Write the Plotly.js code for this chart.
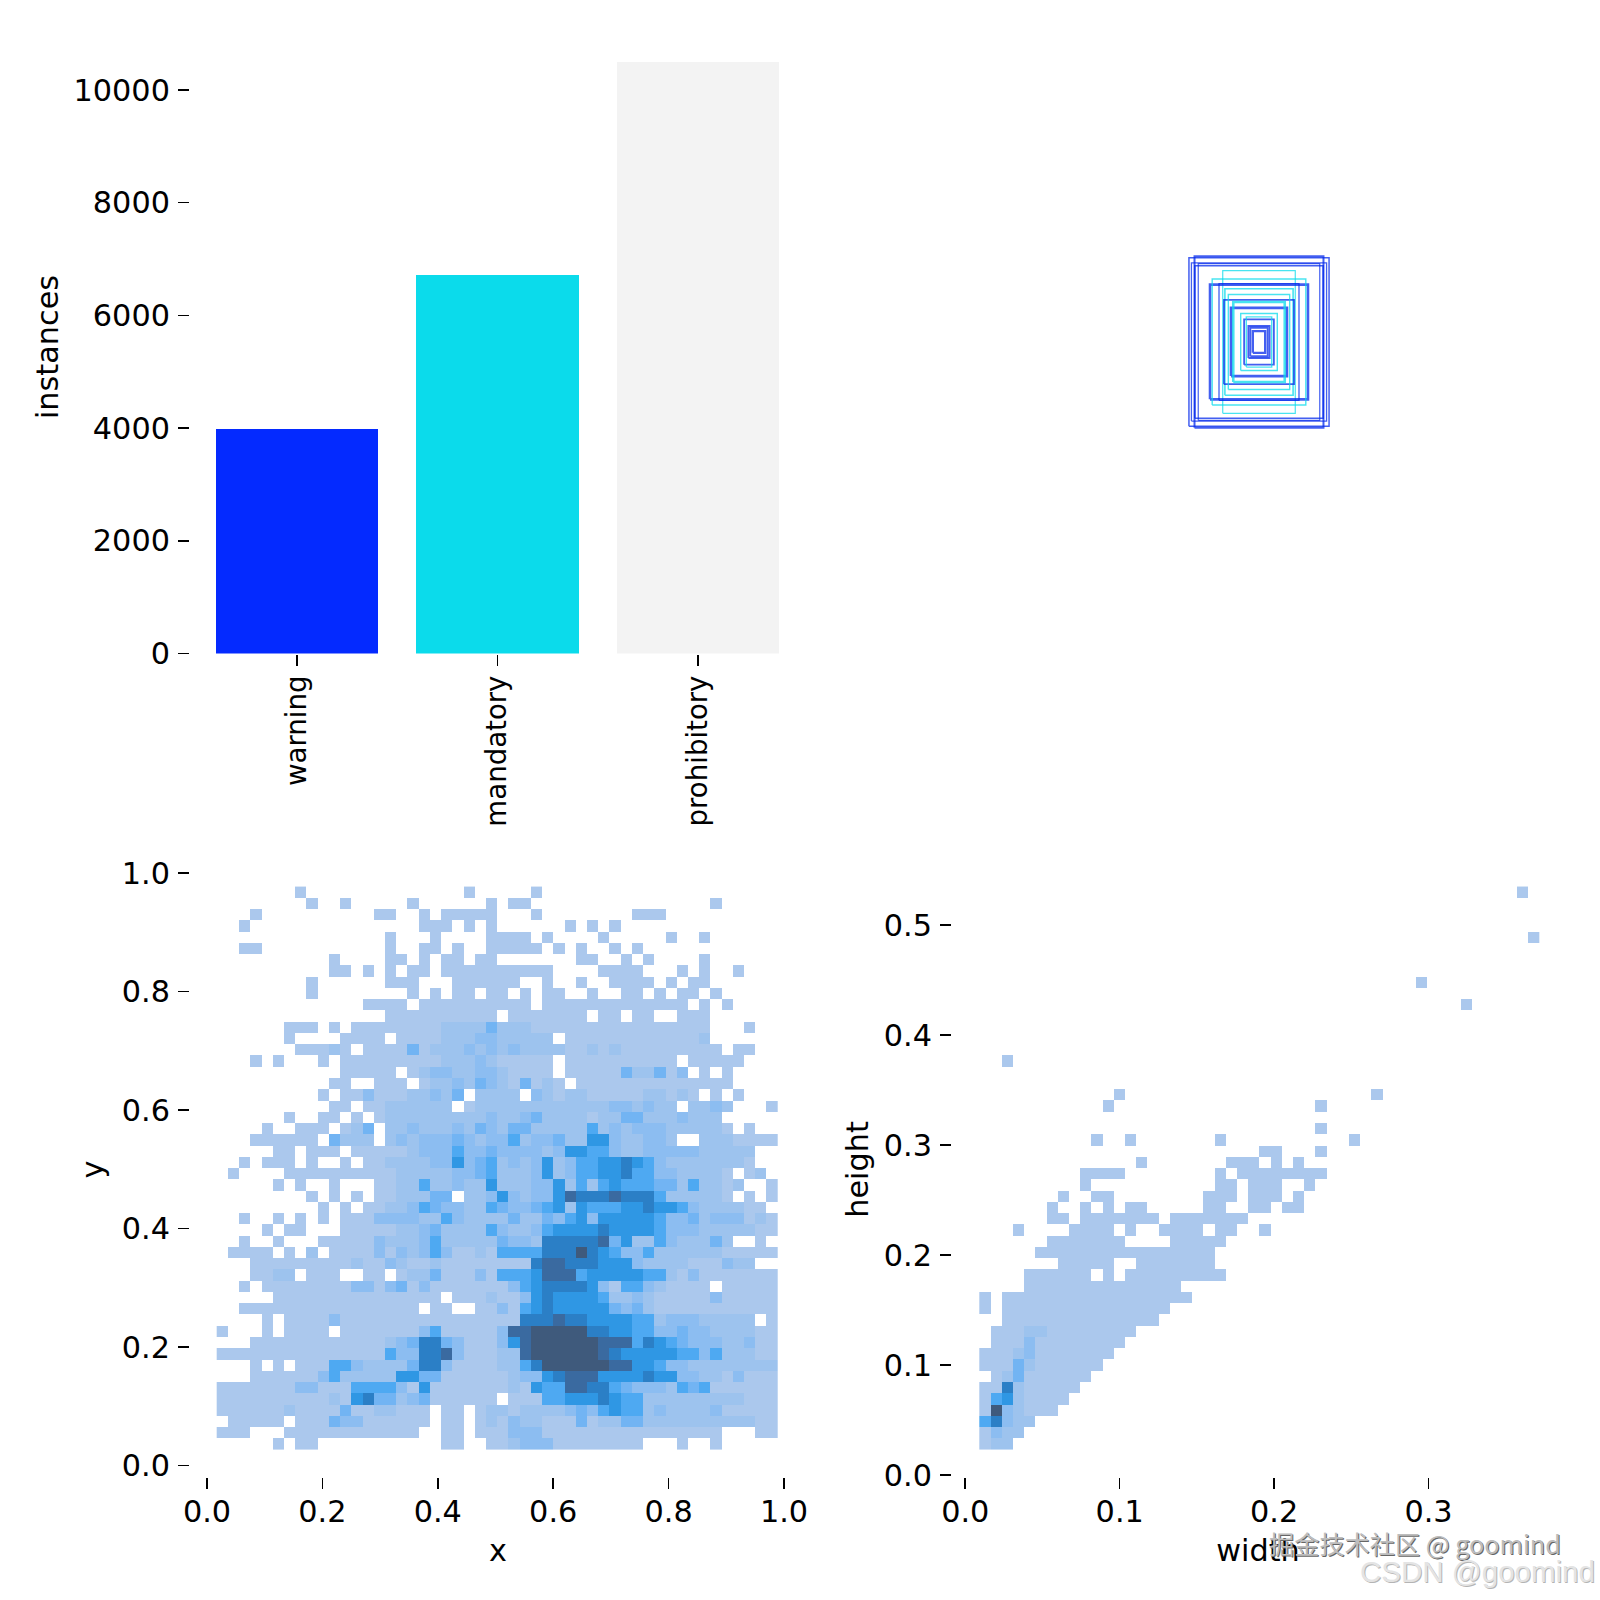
<!DOCTYPE html>
<html><head><meta charset="utf-8"><script src="https://cdn.plot.ly/plotly-3.0.1.min.js"></script>
<style>html,body{margin:0;padding:0;background:#fff}</style></head><body><div id="chart" style="width:1600px;height:1600px"></div>
<script>
const classNames = ["warning", "mandatory", "prohibitory"];
const classCounts = [3985, 6717, 10500];
const classColors = ["#042AFF", "#0BDBEB", "#F3F3F3"];

// x / y 2D histogram, counts on a 0-9 shade scale, top row first
const xyRows = [
"0000000100 0000000000 0010000010 0000000000 0000000000",
"0000000010 0100000100 0000101100 0000000000 0000100000",
"0001000000 0000110010 1111100010 0000000111 0000000000",
"0010000000 0000000011 1010100000 0101010000 0000000000",
"0000000000 0000010001 0000111101 0000100000 1001000000",
"0011000000 0000010011 0100111110 1010010100 0000000000",
"0000000000 1000011010 1101100000 0011001010 0001000000",
"0000000000 1101010110 1111111111 0000111100 0101001000",
"0000000010 0000011100 0111111001 0010011110 1011000000",
"0000000010 0000000101 0110110101 1001001101 0110100000",
"0000000000 0001111011 1111111101 1111111111 1101010000",
"0000000000 0000011111 1111101111 1110110110 0111000000",
"0000001110 1011111111 2222422211 1111111111 1111000100",
"0000001000 0111101111 2223322222 0111111111 1112000000",
"0000000111 2101111412 2232323222 2112121111 1111101100",
"0001010001 0111111111 2223211111 0111111111 1011111000",
"0000000000 0111110123 3223321111 0111114224 1301010000",
"0000000000 1100111012 2324321412 1011111111 1111110000",
"0000000001 0113111223 2402222032 1221111122 1210101000",
"0000000000 1101122222 2012222222 2222233232 2022320001",
"0000001001 1010122222 2222322342 2221224422 2322200000",
"0000100111 0124022322 2324324422 2225232333 2222210100",
"0001111110 4222023233 3432335233 4226632233 2002221111",
"0000011011 1011111233 3533433332 3665532233 3332222200",
"0010111010 0101122223 3634523236 2355667653 2222222100",
"0100001111 1111112222 2334522236 2355667553 3222210120",
"0000010100 1000112252 2322622233 6252565554 4252212001",
"0000000010 1010112224 4022363233 6877787775 2222210101",
"0000000001 0101122354 3322543345 6265556676 6532222110",
"0010010101 0111333322 5322224224 3563666665 3342333121",
"0000101100 0111112234 2222532235 6666766665 3332222211",
"0010010001 1111322235 2222243327 7777846225 3222420010",
"0111101020 1111313235 3112155557 7797653352 2222211111",
"0001111111 1121132112 1111111178 8777666322 2211132200",
"0001122011 1001101224 1113155568 8856666655 2131111111",
"0010111111 1133134131 1111113567 7776315532 1111011111",
"0000011111 1111111111 0111211367 6666522321 1111311111",
"0011111111 1111111101 1001131567 6666643421 1111111111",
"0000101111 3111111111 1111111777 8776666552 3332222201",
"1000101111 0111111135 1111138899 9997766553 3433222211",
"0001111111 1111123477 4311136899 9999888576 5433322311",
"1111111111 1111153377 8311122899 9999876666 6553522211",
"0001010111 5532222477 3111122579 9999988665 3322222222",
"0001111113 5222226644 1111112336 7888666676 6332213111",
"1111111331 1155553161 1111112165 5887754333 2545111111",
"1111111111 2167442341 1111101115 5666765522 2222222111",
"1111112111 1411221110 1101221222 2343565523 2222311111",
"0111110111 4331111110 1101213221 1141224422 2222222211",
"1110001111 1111111100 1101113331 1111111111 1111100011",
"0000010110 0000000000 1100112333 1111111100 0100100000"
];

// width / height 2D histogram, same shade scale, bottom row first
const whRows = [
"1220000000 0000000000 0000000000 0000000000 0000000000",
"1322000000 0000000000 0000000000 0000000000 0000000000",
"5732200000 0000000000 0000000000 0000000000 0000000000",
"1932111000 0000000000 0000000000 0000000000 0000000000",
"1562111100 0000000000 0000000000 0000000000 0000000000",
"1172111110 0000000000 0000000000 0000000000 0000000000",
"0124111111 0000000000 0000000000 0000000000 0000000000",
"1114211111 1000000000 0000000000 0000000000 0000000000",
"1112311111 1100000000 0000000000 0000000000 0000000000",
"0111311111 1110000000 0000000000 0000000000 0000000000",
"0111221111 1111000000 0000000000 0000000000 0000000000",
"0011111111 1111110000 0000000000 0000000000 0000000000",
"1011111111 1111111000 0000000000 0000000000 0000000000",
"1011111111 1111111110 0000000000 0000000000 0000000000",
"0000111111 1111111100 0000000000 0000000000 0000000000",
"0000111111 0101111111 1100000000 0000000000 0000000000",
"0000000111 1100111111 1000000000 0000000000 0000000000",
"0000011111 1111111111 1000000000 0000000000 0000000000",
"0000001111 1110000111 1100000000 0000000000 0000000000",
"0001000011 1101001111 0110010000 0000000000 0000000000",
"0000001101 1111110111 1111000000 0000000000 0000000000",
"0000001001 0101100000 1100110110 0000000000 0000000000",
"0000000100 1100000000 1110111010 0000000000 0000000000",
"0000000001 0000000000 0110111001 0000000000 0000000000",
"0000000001 1110000000 0101111111 1000000000 0000000000",
"0000000000 0000100000 0011101010 0000000000 0000000000",
"0000000000 0000000000 0000011000 1000000000 0000000000",
"0000000000 1001000000 0100000000 0001000000 0000000000",
"0000000000 0000000000 0000000000 1000000000 0000000000",
"0000000000 0000000000 0000000000 0000000000 0000000000",
"0000000000 0100000000 0000000000 1000000000 0000000000",
"0000000000 0010000000 0000000000 0000010000 0000000000",
"0000000000 0000000000 0000000000 0000000000 0000000000",
"0000000000 0000000000 0000000000 0000000000 0000000000",
"0010000000 0000000000 0000000000 0000000000 0000000000",
"0000000000 0000000000 0000000000 0000000000 0000000000",
"0000000000 0000000000 0000000000 0000000000 0000000000",
"0000000000 0000000000 0000000000 0000000000 0000000000",
"0000000000 0000000000 0000000000 0000000000 0000000000",
"0000000000 0000000000 0000000000 0000000000 0001000000",
"0000000000 0000000000 0000000000 0000000000 0000000000",
"0000000000 0000000000 0000000000 0000000001 0000000000",
"0000000000 0000000000 0000000000 0000000000 0000000000",
"0000000000 0000000000 0000000000 0000000000 0000000000",
"0000000000 0000000000 0000000000 0000000000 0000000000",
"0000000000 0000000000 0000000000 0000000000 0000000001",
"0000000000 0000000000 0000000000 0000000000 0000000000",
"0000000000 0000000000 0000000000 0000000000 0000000000",
"0000000000 0000000000 0000000000 0000000000 0000000000",
"0000000000 0000000000 0000000000 0000000000 0000000010"
];

// label-box outlines, all centred: width and height as a share of the image
const boxWidths  = [.226,.208,.218,.207,.196,.117,.158,.151,.129,.110,.113,.099,.090,.083,.059,.048,.041,.034,.028,.020];
const boxHeights = [.272,.277,.255,.246,.253,.230,.185,.203,.188,.172,.136,.153,.110,.129,.092,.073,.081,.052,.046,.035];
const boxColors  = ["b","b","b","b","b","c","b","c","b","c","b","c","b","c","c","b","c","b","b","b"];
const boxStrokes = [1.5,2,1.3,1.6,1.2,1.2,2.6,1.4,1.3,1.6,1.8,1.4,2.8,2.6,1.4,1.8,1.4,2,1.8,2.4];

const shadeScale = [
  [0, "#ABC8ED"], [0.125, "#9DC3EE"], [0.25, "#8CBDF1"], [0.375, "#72B4F3"], [0.5, "#4EA9F2"],
  [0.625, "#2F97E4"], [0.75, "#2B7FC6"], [0.875, "#3A6AA0"], [1, "#3F5A7C"]
];

const parseRows = rows => rows.map(r => r.replace(/ /g, "").split("").map(d => d === "0" ? null : +d));
const F = {family: "DejaVu Sans, sans-serif", size: 30.3, color: "#000"};
const xd = (l, r) => [l / 1600, r / 1600];
const yd = (t, b) => [1 - b / 1600, 1 - t / 1600];
const common = {showgrid: false, zeroline: false, showline: false, ticks: "outside", ticklen: 11, tickwidth: 1.6,
                tickcolor: "#000", tickfont: F, fixedrange: true};
const title = (t, s) => ({text: t, font: F, standoff: s});

const traces = [
  {type: "bar", x: [0, 1, 2], y: classCounts, width: 0.812, marker: {color: classColors, line: {width: 0}},
   xaxis: "x", yaxis: "y", hoverinfo: "skip"},
  {type: "heatmap", z: parseRows(xyRows).reverse(), x0: 0.0265, dx: 0.01945, y0: 0.0356, dy: 0.01902,
   colorscale: shadeScale, zmin: 1, zmax: 9, showscale: false, xaxis: "x2", yaxis: "y2", hoverinfo: "skip"},
  {type: "heatmap", z: parseRows(whRows), x0: 0.0127, dx: 0.007248, y0: 0.02785, dy: 0.010245,
   colorscale: shadeScale, zmin: 1, zmax: 9, showscale: false, xaxis: "x3", yaxis: "y3", hoverinfo: "skip"}
];
boxWidths.forEach((w, i) => {
  const h = boxHeights[i];
  traces.push({type: "scatter", mode: "lines",
    x: [-w / 2, w / 2, w / 2, -w / 2, -w / 2], y: [-h / 2, -h / 2, h / 2, h / 2, -h / 2],
    line: {width: boxStrokes[i], color: boxColors[i] === "b" ? "rgba(4,42,235,0.75)" : "rgba(11,219,235,0.75)"},
    xaxis: "x4", yaxis: "y4", hoverinfo: "skip", showlegend: false});
});

const layout = {
  width: 1600, height: 1600, margin: {l: 0, r: 0, t: 0, b: 0}, showlegend: false,
  paper_bgcolor: "#fff", plot_bgcolor: "#fff", bargap: 0,
  xaxis: {...common, tickfont: {...F, size: 27.6}, domain: xd(190, 808), range: [-0.5337, 2.5486], tickmode: "array", tickvals: [0, 1, 2],
          ticktext: classNames, tickangle: -90, anchor: "y", ticklabelstandoff: -1},
  yaxis: {...common, domain: yd(40.5, 653.5), range: [0, 10878], tickmode: "array",
          tickvals: [0, 2000, 4000, 6000, 8000, 10000], ticktext: ["0", "2000", "4000", "6000", "8000", "10000"],
          title: title("instances", 5), anchor: "x", ticklabelstandoff: 2},
  xaxis2: {...common, domain: xd(190, 806), range: [-0.0295, 1.03813], tickmode: "array",
           tickvals: [0, .2, .4, .6, .8, 1], ticktext: ["0.0", "0.2", "0.4", "0.6", "0.8", "1.0"],
           title: title("x", 11), anchor: "y2", ticklabelstandoff: -3},
  yaxis2: {...common, domain: yd(862, 1477), range: [-0.0194, 1.0186], tickmode: "array",
           tickvals: [0, .2, .4, .6, .8, 1], ticktext: ["0.0", "0.2", "0.4", "0.6", "0.8", "1.0"],
           title: title("y", 8.5), anchor: "x2", ticklabelstandoff: 2},
  xaxis3: {...common, domain: xd(952, 1564), range: [-0.00861, 0.38776], tickmode: "array",
           tickvals: [0, .1, .2, .3], ticktext: ["0.0", "0.1", "0.2", "0.3"],
           title: title("width", 11), anchor: "y3", ticklabelstandoff: -3},
  yaxis3: {...common, domain: yd(862, 1477), range: [-0.0018, 0.5573], tickmode: "array",
           tickvals: [0, .1, .2, .3, .4, .5], ticktext: ["0.0", "0.1", "0.2", "0.3", "0.4", "0.5"],
           title: title("height", 6), anchor: "x3", ticklabelstandoff: 2},
  xaxis4: {domain: xd(949, 1569), range: [-0.5, 0.5], visible: false, anchor: "y4", fixedrange: true},
  yaxis4: {domain: yd(32, 652), range: [-0.5, 0.5], visible: false, anchor: "x4", fixedrange: true},
  annotations: [
    {xref: "paper", yref: "paper", x: 1267 / 1600, y: 1 - 1543 / 1600, xanchor: "left", yanchor: "middle", showarrow: false,
     text: "掘金技术社区 @ goomind",
     font: {family: "Noto Sans CJK SC, sans-serif", size: 25.2, color: "#bdbdbd", shadow: "1px 1px 0px #666666"}},
    {xref: "paper", yref: "paper", x: 1358 / 1600, y: 1 - 1571 / 1600, xanchor: "left", yanchor: "middle", showarrow: false,
     text: "CSDN @goomind",
     font: {family: "Liberation Sans, sans-serif", size: 29.5, color: "#e4e4e4", shadow: "1px 1px 0px #b4b4b4"}}
  ]
};
Plotly.newPlot("chart", traces, layout, {displayModeBar: false, staticPlot: true});
</script></body></html>
